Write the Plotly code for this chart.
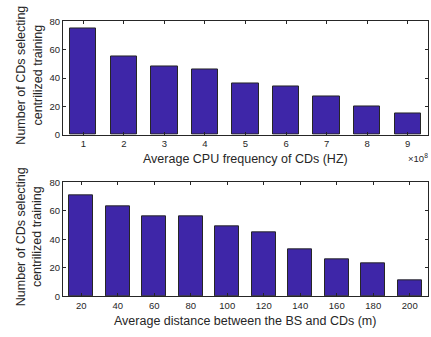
import plotly.graph_objects as go

# CPU frequency experiment (x in units of 1e8 Hz)
cpu_freq = [1, 2, 3, 4, 5, 6, 7, 8, 9]
cpu_counts = [75, 55, 48, 46, 36, 34, 27, 20, 15]

# Distance experiment (m)
distances = [20, 40, 60, 80, 100, 120, 140, 160, 180, 200]
dist_counts = [71, 63, 56, 56, 49, 45, 33, 26, 23, 11]

y_ticks = [0, 20, 40, 60, 80]

BAR_COLOR = "#3e26a8"
EDGE = "#262626"
FONT = "Liberation Sans, Arial, sans-serif"

fig = go.Figure()
fig.add_trace(go.Bar(x=cpu_freq, y=cpu_counts, width=0.65,
                     marker=dict(color=BAR_COLOR, line=dict(color=EDGE, width=1)),
                     xaxis="x", yaxis="y", showlegend=False))
fig.add_trace(go.Bar(x=distances, y=dist_counts, width=13.3,
                     marker=dict(color=BAR_COLOR, line=dict(color=EDGE, width=1)),
                     xaxis="x2", yaxis="y2", showlegend=False))

axis_common = dict(showline=True, linecolor=EDGE, linewidth=1, mirror="allticks",
                   ticks="inside", ticklen=3, tickcolor=EDGE, showgrid=False,
                   zeroline=False, tickfont=dict(family=FONT, size=9.5, color=EDGE))

xdom = [63 / 431, 428 / 431]
fig.update_layout(
    width=431, height=337,
    margin=dict(l=0, r=0, t=0, b=0),
    paper_bgcolor="white", plot_bgcolor="white",
    bargap=0,
    xaxis=dict(domain=xdom, anchor="y", range=[0.5, 9.5], tickvals=cpu_freq, **axis_common),
    yaxis=dict(domain=[1 - 133 / 337, 1 - 16 / 337], anchor="x", range=[0, 80],
               tickvals=y_ticks, **axis_common),
    xaxis2=dict(domain=xdom, anchor="y2", range=[10, 210], tickvals=distances, **axis_common),
    yaxis2=dict(domain=[1 - 300 / 337, 1 - 182.3 / 337], anchor="x2", range=[0, 80],
                tickvals=y_ticks, **axis_common),
)

title_font = dict(family=FONT, size=12.5, color=EDGE)
ylabel = "Number of CDs selecting<br>centrilized training"


def label(text, x, y, angle=0, font=title_font, xanchor="center"):
    fig.add_annotation(text=text, textangle=angle, x=x / 431, y=1 - y / 337,
                       xref="paper", yref="paper", xanchor=xanchor, yanchor="middle",
                       showarrow=False, font=font)


label(ylabel, 29, 72, angle=-90)
label(ylabel, 29, 239, angle=-90)
label("Average CPU frequency of CDs (HZ)", 245, 158)
label("Average distance between the BS and CDs (m)", 245, 325.5)
label("×10<sup>8</sup>", 430, 157, font=dict(family=FONT, size=9.5, color=EDGE),
      xanchor="right")

fig.write_html("out.html")
